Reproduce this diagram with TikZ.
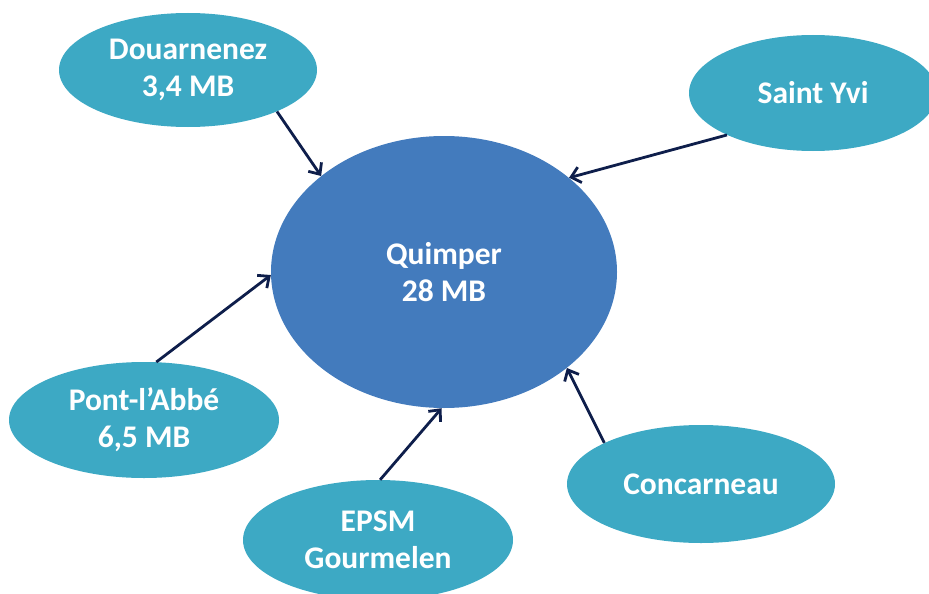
\documentclass[tikz,border=0pt]{standalone}
\usepackage{fontspec}
\setmainfont{Carlito}
\usetikzlibrary{shapes.geometric,arrows.meta}

\definecolor{siteteal}{HTML}{3DA9C4}
\definecolor{hubblue}{HTML}{437BBD}
\definecolor{linknavy}{HTML}{0E1E4B}

\begin{document}
\begin{tikzpicture}[x=1pt,y=1pt,
    site/.style={ellipse, fill=siteteal, text=white, inner sep=0pt, align=center,
        font=\fontsize{31.5}{37}\selectfont\bfseries},
    hub/.style={site, fill=hubblue},
    link/.style={draw=linknavy, line width=2.8pt, -{Straight Barb[length=9pt,width=16pt]}}]
    \useasboundingbox (0,0) rectangle (929,-594);
    \clip (0,0) rectangle (929,-594);

    % Draw the central site
    \node[hub, minimum width=346pt, minimum height=272pt] (quimper) at (444,-272) {Quimper\\28 MB};

    % Draw the sites around it
    \node[site, minimum width=258pt, minimum height=114pt] (douarnenez) at (188,-70) {Douarnenez\\3,4 MB};
    \node[site, minimum width=248pt, minimum height=116pt] (saintyvi) at (813,-93) {Saint Yvi};
    \node[site, minimum width=270pt, minimum height=116pt] (pontlabbe) at (144,-420) {Pont-l’Abbé\\6,5 MB};
    \node[site, minimum width=270pt, minimum height=120pt] (epsm) at (378,-540) {EPSM\\Gourmelen};
    \node[site, minimum width=268pt, minimum height=118pt] (concarneau) at (701,-484) {Concarneau};

    % Draw the arrows into the centre
    \draw[link] (douarnenez.-25) -- (quimper.142);
    \draw[link] (saintyvi.-154) -- (quimper.37);
    \draw[link] (pontlabbe.78) -- (quimper.181);
    \draw[link] (epsm.88) -- (quimper.-91);
    \draw[link] (concarneau.157) -- (quimper.-38);

\end{tikzpicture}
\end{document}
